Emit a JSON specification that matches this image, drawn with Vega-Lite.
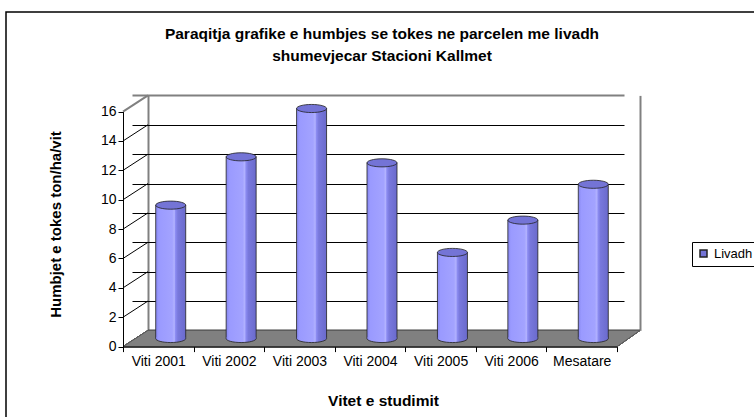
{
  "$schema": "https://vega.github.io/schema/vega-lite/v6.json",
  "width": 760,
  "height": 415,
  "autosize": {"type": "none"},
  "padding": {"left": 6, "top": 12, "right": 0, "bottom": 0},
  "background": "white",
  "config": {
    "font": "Liberation Sans",
    "view": {"stroke": "#000", "strokeWidth": 1.5},
    "axis": {"labelColor": "#000", "tickColor": "#000", "domainColor": "#000", "titleColor": "#000"}
  },
  "title": {
    "text": ["Paraqitja grafike e humbjes se tokes ne parcelen me livadh", "shumevjecar Stacioni Kallmet"],
    "fontSize": 15.5,
    "fontWeight": "bold",
    "color": "#000",
    "anchor": "start",
    "frame": "group",
    "baseline": "top",
    "align": "center",
    "offset": -52,
    "lineHeight": 22,
    "dx": 376
  },
  "datasets": {
    "main": [
      {"cat": "Viti 2001", "val": 9.08},
      {"cat": "Viti 2002", "val": 12.37},
      {"cat": "Viti 2003", "val": 15.66},
      {"cat": "Viti 2004", "val": 11.96},
      {"cat": "Viti 2005", "val": 5.86},
      {"cat": "Viti 2006", "val": 8.06},
      {"cat": "Mesatare", "val": 10.5}
    ],
    "levels": [
      {"lvl": 2}, {"lvl": 4}, {"lvl": 6}, {"lvl": 8}, {"lvl": 10}, {"lvl": 12}, {"lvl": 14}, {"lvl": 16}
    ]
  },
  "data": {"name": "main"},
  "layer": [
    {
      "mark": {"type": "point", "opacity": 0},
      "encoding": {
        "x": {
          "field": "cat", "type": "nominal", "sort": null,
          "scale": {"type": "band", "domain": ["Viti 2001", "Viti 2002", "Viti 2003", "Viti 2004", "Viti 2005", "Viti 2006", "Mesatare"], "range": [117, 611], "paddingInner": 0, "paddingOuter": 0},
          "axis": {
            "orient": "bottom", "offset": -80.4, "zindex": 2, "tickBand": "extent", "tickSize": 5,
            "labelAngle": 0, "labelFontSize": 14, "labelPadding": 3, "grid": false,
            "title": "Vitet e studimit", "titleFontSize": 15.5, "titleFontWeight": "bold",
            "titleX": 377, "titleY": 54, "titleAlign": "center", "titleBaseline": "middle"
          }
        },
        "y": {
          "field": "val", "type": "quantitative",
          "scale": {"domain": [0, 16], "range": [334.6, 99.6], "nice": false, "zero": false},
          "axis": {
            "orient": "left", "offset": -117, "zindex": 2, "values": [0, 2, 4, 6, 8, 10, 12, 14, 16],
            "tickSize": 5, "labelFontSize": 14, "labelPadding": 2, "grid": false,
            "title": "Humbjet e tokes ton/ha/vit", "titleFontSize": 15, "titleFontWeight": "bold",
            "titleX": -68, "titleY": 212, "titleAngle": -90, "titleAlign": "center", "titleBaseline": "middle"
          }
        }
      }
    },
    {
      "mark": {"type": "point", "opacity": 0},
      "encoding": {
        "x": {
          "datum": 0, "type": "quantitative",
          "scale": {"domain": [0, 7], "range": [142, 634], "nice": false, "zero": false},
          "axis": {"values": [0, 7], "grid": true, "gridColor": "#808080", "gridWidth": 2, "labels": false, "ticks": false, "domain": false, "title": null}
        },
        "y": {
          "datum": 0, "type": "quantitative",
          "scale": {"domain": [0, 16], "range": [318.4, 83.4], "nice": false, "zero": false},
          "axis": {
            "values": [2, 4, 6, 8, 10, 12, 14, 16], "grid": true,
            "gridColor": {"condition": {"test": "datum.value === 16", "value": "#808080"}, "value": "#000"},
            "gridWidth": {"condition": {"test": "datum.value === 16", "value": 2}, "value": 1},
            "labels": false, "ticks": false, "domain": false, "title": null
          }
        }
      }
    },
    {
      "encoding": {
        "x": {
          "field": "cat", "type": "nominal", "sort": null,
          "scale": {"type": "band", "domain": ["Viti 2001", "Viti 2002", "Viti 2003", "Viti 2004", "Viti 2005", "Viti 2006", "Mesatare"], "range": [129.5, 622.5], "paddingInner": 0, "paddingOuter": 0},
          "axis": null
        },
        "y": {
          "field": "val", "type": "quantitative",
          "scale": {"domain": [0, 16], "range": [326.5, 91.5], "nice": false, "zero": false},
          "axis": null
        }
      },
      "layer": [
        {
          "mark": {"type": "point", "shape": "M -1 0.0313 L 0.9073 0.0313 L 0.9961 -0.0313 L -0.9035 -0.0313 Z", "size": 268324, "filled": true, "fill": "#808080", "stroke": "#5a5a5a", "strokeWidth": 1, "opacity": 1},
          "encoding": {
            "x": {"datum": "Viti 2004", "type": "nominal", "axis": null},
            "y": {"datum": 0, "type": "quantitative", "axis": null}
          }
        },
        {
          "data": {"name": "levels"},
          "mark": {"type": "point", "shape": "M -1 0.648 L 1 -0.648", "size": 625, "filled": false, "opacity": 1},
          "encoding": {
            "x": {"datum": "Viti 2001", "type": "nominal", "bandPosition": 0, "axis": null},
            "y": {"field": "lvl", "type": "quantitative", "axis": null},
            "stroke": {"condition": {"test": "datum.lvl === 16", "value": "#808080"}, "value": "#000"},
            "strokeWidth": {"condition": {"test": "datum.lvl === 16", "value": 2}, "value": 1}
          }
        },
        {
          "mark": {
            "type": "bar", "width": {"band": 0.426}, "stroke": "#222", "strokeWidth": 0.8,
            "fill": {"gradient": "linear", "x1": 0, "y1": 0, "x2": 1, "y2": 0, "stops": [
              {"offset": 0, "color": "#8585ee"},
              {"offset": 0.1, "color": "#9a9aff"},
              {"offset": 0.55, "color": "#a3a3ff"},
              {"offset": 0.62, "color": "#b2b2ff"},
              {"offset": 0.66, "color": "#8c8cf2"},
              {"offset": 0.74, "color": "#7878dc"},
              {"offset": 1, "color": "#6a6acc"}
            ]}
          }
        },
        {
          "mark": {
            "type": "point", "size": 900, "filled": true, "opacity": 1, "strokeWidth": 0,
            "shape": "M -1 0 C -1 -0.149 -0.552 -0.27 0 -0.27 C 0.552 -0.27 1 -0.149 1 0 C 1 0.149 0.552 0.27 0 0.27 C -0.552 0.27 -1 0.149 -1 0 Z",
            "fill": {"gradient": "linear", "x1": 0, "y1": 0, "x2": 1, "y2": 0, "stops": [
              {"offset": 0, "color": "#8585ee"},
              {"offset": 0.1, "color": "#9a9aff"},
              {"offset": 0.55, "color": "#a3a3ff"},
              {"offset": 0.62, "color": "#b2b2ff"},
              {"offset": 0.66, "color": "#8c8cf2"},
              {"offset": 0.74, "color": "#7878dc"},
              {"offset": 1, "color": "#6a6acc"}
            ]}
          },
          "encoding": {"y": {"datum": 0, "type": "quantitative", "axis": null}}
        },
        {
          "mark": {
            "type": "point", "size": 900, "filled": false, "opacity": 1, "stroke": "#222", "strokeWidth": 0.8,
            "shape": "M -1 0 C -1 0.149 -0.552 0.27 0 0.27 C 0.552 0.27 1 0.149 1 0"
          },
          "encoding": {"y": {"datum": 0, "type": "quantitative", "axis": null}}
        },
        {
          "mark": {
            "type": "point", "size": 900, "filled": true, "opacity": 1, "stroke": "#222", "strokeWidth": 0.8,
            "shape": "M -1 0 C -1 -0.149 -0.552 -0.27 0 -0.27 C 0.552 -0.27 1 -0.149 1 0 C 1 0.149 0.552 0.27 0 0.27 C -0.552 0.27 -1 0.149 -1 0 Z"
          },
          "encoding": {
            "color": {
              "datum": "Livadh",
              "scale": {"domain": ["Livadh"], "range": ["#7474d6"]},
              "legend": {
                "orient": "none", "legendX": 686, "legendY": 230, "title": null,
                "symbolType": "square", "symbolSize": 49, "labelFontSize": 13, "labelColor": "#000",
                "labelOffset": 4, "strokeColor": "#000", "fillColor": "#fff", "padding": 5,
                "encode": {"symbols": {"update": {"fill": {"value": "#9999ff"}, "stroke": {"value": "#000"}, "strokeWidth": {"value": 1}, "opacity": {"value": 1}, "shape": {"value": "square"}}}}
              }
            }
          }
        }
      ]
    }
  ],
  "resolve": {
    "scale": {"x": "independent", "y": "independent"},
    "axis": {"x": "independent", "y": "independent"}
  }
}
